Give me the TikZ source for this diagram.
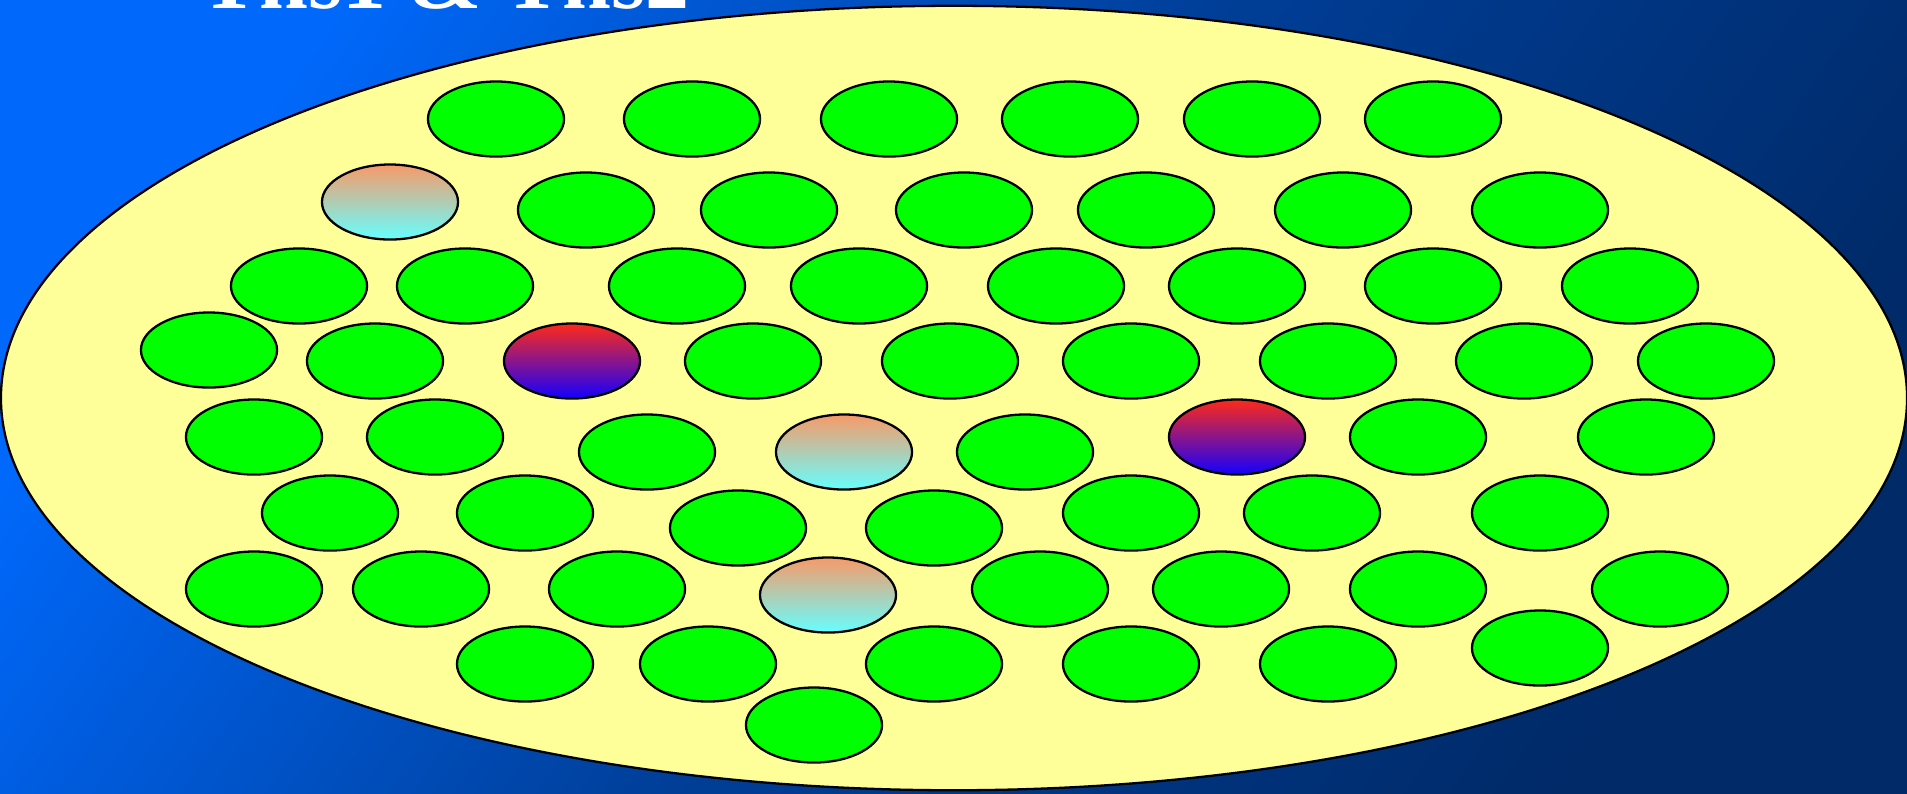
\documentclass[tikz,border=0pt]{standalone}
\usepackage{fontspec}
\setmainfont{Liberation Serif}
\usepackage{tikz}
\usetikzlibrary{shapes.geometric}
\definecolor{SeaLight}{HTML}{0068FA}
\definecolor{SeaDark}{HTML}{002A68}
\definecolor{CladYellow}{HTML}{FFFF99}
\definecolor{CoreGreen}{HTML}{00FF00}
\definecolor{WarmTop}{HTML}{F89A68}
\definecolor{WarmBot}{HTML}{66FFFF}
\definecolor{HotTop}{HTML}{FF2A18}
\definecolor{HotBot}{HTML}{1400FF}

\begin{document}
\begin{tikzpicture}[x=0.01cm,y=-0.01cm,
		core/.style={ellipse,draw=black,line width=0.65pt,inner sep=0pt,minimum width=1.36cm,minimum height=0.75cm},
		green core/.style={core,fill=CoreGreen},
		warm core/.style={core,top color=WarmTop,bottom color=WarmBot},
		hot core/.style={core,top color=HotTop,bottom color=HotBot}]
		\useasboundingbox (0,0) rectangle (1907,793);
		\clip (0,0) rectangle (1907,793);
		\shade[top color=SeaLight,bottom color=SeaDark,middle color=SeaLight!32!SeaDark,shading angle=55] (0,0) rectangle (1907,793);
		\node[white,font=\fontsize{25}{30}\selectfont\bfseries,anchor=base west,inner sep=0pt] (title) at (200,8) {Tns1 \& Tns2};
		\node[ellipse,draw=black,line width=0.65pt,fill=CladYellow,inner sep=0pt,minimum width=19.05cm,minimum height=7.84cm] (bundle) at (954,398) {};
		% green cores, row by row
		\foreach \x/\y [count=\i] in {496/119,692/119,889/119,1070/119,1252/119,1433/119,
				586/210,769/210,964/210,1146/210,1343/210,1540/210,
				299/286,465/286,677/286,859/286,1056/286,1237/286,1433/286,1630/286,
				209/350,375/361,753/361,950/361,1131/361,1328/361,1524/361,1706/361,
				254/437,435/437,1418/437,1646/437,647/452,1025/452,
				330/513,525/513,1131/513,1312/513,1540/513,738/528,934/528,
				254/589,421/589,617/589,1040/589,1221/589,1418/589,1660/589,
				525/664,708/664,934/664,1131/664,1328/664,1540/648,
				814/725}
			\node[green core] (g\i) at (\x,\y) {};
		% shaded cores
		\node[warm core] (w1) at (390,202) {};
		\node[warm core] (w2) at (844,452) {};
		\node[warm core] (w3) at (828,595) {};
		\node[hot core] (h1) at (572,361) {};
		\node[hot core] (h2) at (1237,437) {};
	\end{tikzpicture}
\end{document}
